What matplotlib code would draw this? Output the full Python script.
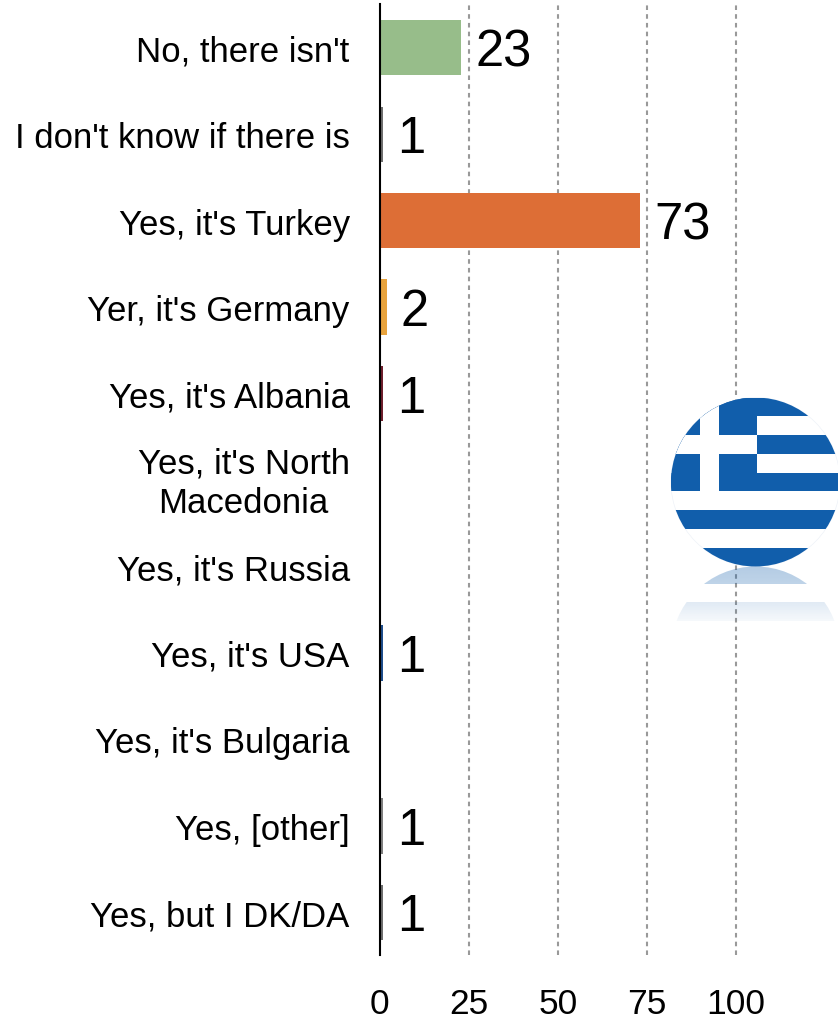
import numpy as np
import matplotlib
matplotlib.use("Agg")
import matplotlib.pyplot as plt
from matplotlib.patches import Circle, Rectangle
from matplotlib.transforms import ScaledTranslation

plt.rcParams["font.family"] = ["Liberation Sans", "DejaVu Sans"]

categories = ["No, there isn't", "I don't know if there is", "Yes, it's Turkey",
              "Yer, it's Germany", "Yes, it's Albania", "Yes, it's North\nMacedonia",
              "Yes, it's Russia", "Yes, it's USA", "Yes, it's Bulgaria",
              "Yes, [other]", "Yes, but I DK/DA"]
values = [23, 1, 73, 2, 1, None, None, 1, None, 1, 1]
bar_colors = ["#97bd8a", "#6e6e6e", "#dd6e36", "#e8a33d", "#6e1f2c", "#888888",
              "#888888", "#1f4e8c", "#888888", "#7f7f7f", "#6e6e6e"]
x_ticks = [0, 25, 50, 75, 100]

W, H = 838, 1020
fig = plt.figure(figsize=(W / 100, H / 100), dpi=100, facecolor="white")

# Main bar panel, laid out in pixel terms
left, right, top, bottom = 379.5, 838, 4.5, 955.5
ax = fig.add_axes([left / W, 1 - bottom / H, (right - left) / W, (bottom - top) / H])
ax.set_xlim(0, (right - left) / 3.565)
ax.set_ylim(len(categories) - 0.5 - 0.012, -0.5 - 0.012)

for i, (v, c) in enumerate(zip(values, bar_colors)):
    if v is None:
        continue
    ax.barh(i, v, height=0.64, color=c, linewidth=0, zorder=2)
    ax.annotate(str(v), (v, i), xytext=(10.2, 0.7), textcoords="offset points",
                ha="left", va="center_baseline", fontsize=36.5, color="black", zorder=4)

for spine in ("top", "right", "bottom"):
    ax.spines[spine].set_visible(False)
ax.spines["left"].set_linewidth(1.5)
ax.spines["left"].set_color("black")
ax.spines["left"].set_zorder(3)

ax.set_xticks(x_ticks)
ax.set_xticklabels([str(t) for t in x_ticks], fontsize=25.5)
ax.tick_params(axis="x", length=0, pad=23.5)
ax.set_yticks(range(len(categories)))
ax.set_yticklabels(categories, fontsize=25, ma="center", linespacing=1.26, color="black")
ax.tick_params(axis="y", length=0, pad=21.5)

# The two-line label sits a little higher than the single-line ones
wrapped = ax.get_yticklabels()[5]
wrapped.set_transform(wrapped.get_transform() + ScaledTranslation(0, 3 / 72, fig.dpi_scale_trans))

for t in x_ticks[1:]:
    ax.axvline(t, color="#999999", lw=1.5, linestyle=(0, (2.2, 2.0)), zorder=1)

# Circular Greek flag badge with its fading reflection
ov = fig.add_axes([0, 0, 1, 1], facecolor="none")
ov.set_xlim(0, W)
ov.set_ylim(H, 0)
ov.axis("off")

BLUE = "#115eab"
cx, cy, r = 755.5, 483.0, 84.5
disc = Circle((cx, cy), r, facecolor="white", edgecolor="#eef2f8", lw=0.5, zorder=5)
ov.add_patch(disc)
stripe_h = 2 * r / 9
clip_disc = Circle((cx, cy), r, transform=ov.transData)


def flag_rect(x0, y0, w, h, color):
    p = Rectangle((x0, y0), w, h, facecolor=color, edgecolor="none", zorder=6)
    ov.add_patch(p)
    p.set_clip_path(clip_disc)


for k in range(0, 9, 2):
    flag_rect(cx - r, cy - r + k * stripe_h, 2 * r, stripe_h, BLUE)
# Canton and white cross
canton_right = 757
flag_rect(cx - r, cy - r, canton_right - cx + r, 5 * stripe_h, BLUE)
flag_rect(700, cy - r, 19, 5 * stripe_h, "white")
flag_rect(cx - r, cy - r + 2 * stripe_h, canton_right - cx + r, stripe_h, "white")

# Reflection: mirrored circle below the disc with alpha fading downward
mirror_cy = cy + 2 * r
clip_mirror = Circle((cx, mirror_cy), r, transform=ov.transData)
blue_rgb = matplotlib.colors.to_rgb(BLUE)


def fade_band(y0, y1, a0, a1):
    n = 32
    img = np.zeros((n, 2, 4))
    img[..., :3] = blue_rgb
    img[..., 3] = np.linspace(a0, a1, n)[:, None]
    im = ov.imshow(img, extent=(cx - r, cx + r, y1, y0), aspect="auto",
                   interpolation="bilinear", zorder=5)
    im.set_clip_path(clip_mirror)


fade_band(567.5, 585.5, 0.32, 0.27)
fade_band(603, 622, 0.13, 0.04)
ov.set_xlim(0, W)
ov.set_ylim(H, 0)

fig.savefig("out.png", dpi=100)
